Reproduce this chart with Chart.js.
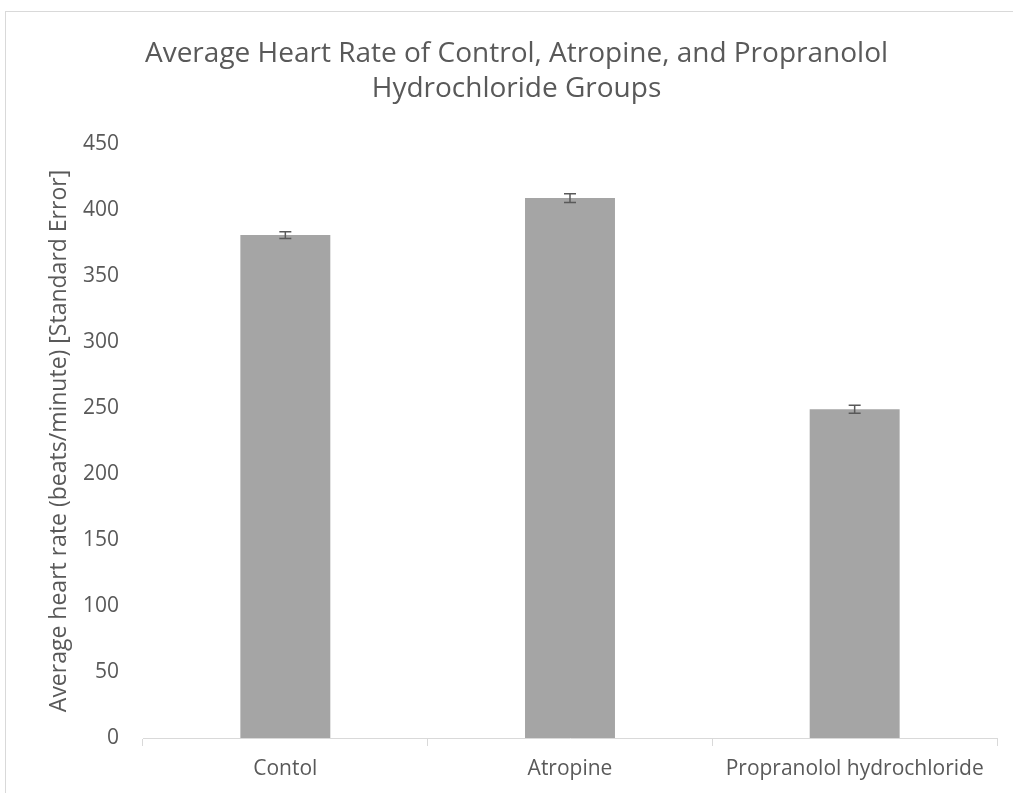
<!DOCTYPE html>
<html>
<head>
<meta charset="utf-8">
<script src="https://cdn.jsdelivr.net/npm/chart.js@4.4.0/dist/chart.umd.min.js"></script>
<style>
    body { margin: 0; background: #fff; }
    #frame { position: absolute; left: 5px; top: 11px; width: 1013px; height: 793px; border: 1px solid #d9d9d9; }
    #wrap { position: absolute; left: 0; top: 0; width: 1013px; height: 793px; }
</style>
</head>
<body>
<div id="frame"></div>
<div id="wrap"><canvas id="heartChart" width="1013" height="793"></canvas></div>
<script>
// Dữ liệu biểu đồ
var groups = ["Contol", "Atropine", "Propranolol hydrochloride"];
var avgHeartRate = [381, 409, 249];
var stdError = [2.6, 3.4, 3.0];
var yTicks = [0, 50, 100, 150, 200, 250, 300, 350, 400, 450];

// Vẽ thanh sai số (standard error)
var errorBarPlugin = {
    id: "errorBars",
    afterDatasetsDraw: function (chart) {
        var ctx = chart.ctx;
        var yScale = chart.scales.y;
        var meta = chart.getDatasetMeta(0);
        ctx.save();
        ctx.strokeStyle = "#595959";
        ctx.lineWidth = 1.5;
        meta.data.forEach(function (bar, i) {
            var top = yScale.getPixelForValue(avgHeartRate[i] + stdError[i]);
            var bottom = yScale.getPixelForValue(avgHeartRate[i] - stdError[i]);
            var x = bar.x;
            ctx.beginPath();
            ctx.moveTo(x, top);
            ctx.lineTo(x, bottom);
            ctx.moveTo(x - 6, top);
            ctx.lineTo(x + 6, top);
            ctx.moveTo(x - 6, bottom);
            ctx.lineTo(x + 6, bottom);
            ctx.stroke();
        });
        ctx.restore();
    },
};

// Dịch tiêu đề sang phải một chút cho giống bản gốc
var titleShiftPlugin = {
    id: "titleShift",
    afterLayout: function (chart) {
        if (chart.titleBlock) {
            chart.titleBlock.left += 36;
        }
    },
};

var ctx = document.getElementById("heartChart").getContext("2d");
new Chart(ctx, {
    type: "bar",
    data: {
        labels: groups,
        datasets: [
            {
                label: "Average heart rate",
                data: avgHeartRate,
                backgroundColor: "#a5a5a5",
                borderWidth: 0,
                categoryPercentage: 1,
                barPercentage: 0.316,
            },
        ],
    },
    options: {
        responsive: false,
        animation: false,
        layout: {
            padding: { left: 0, right: 16, top: 0, bottom: 0 },
        },
        plugins: {
            legend: { display: false },
            tooltip: { enabled: false },
            title: {
                display: true,
                text: [
                    "Average Heart Rate of Control, Atropine, and Propranolol",
                    "Hydrochloride Groups",
                ],
                color: "#595959",
                font: { family: "Open Sans", size: 28, weight: "normal", lineHeight: 1.25 },
                padding: { top: 37, bottom: 37 },
            },
        },
        scales: {
            x: {
                grid: {
                    display: true,
                    drawOnChartArea: false,
                    color: "#d9d9d9",
                    tickLength: 8,
                    offset: true,
                },
                border: { color: "#d9d9d9" },
                ticks: {
                    color: "#595959",
                    font: { family: "Open Sans", size: 21 },
                    padding: 10,
                },
                afterFit: function (scale) {
                    scale.height = 55;
                },
            },
            y: {
                min: 0,
                max: 450,
                grid: { display: false },
                border: { display: false },
                afterBuildTicks: function (scale) {
                    scale.ticks = yTicks.map(function (v) {
                        return { value: v };
                    });
                },
                ticks: {
                    color: "#595959",
                    font: { family: "Open Sans", size: 21 },
                    padding: 16,
                },
                title: {
                    display: true,
                    text: "Average heart rate (beats/minute) [Standard Error]",
                    color: "#595959",
                    font: { family: "Open Sans", size: 23 },
                    padding: { top: 46, bottom: 0 },
                },
                afterFit: function (scale) {
                    scale.width = 143;
                },
            },
        },
    },
    plugins: [errorBarPlugin, titleShiftPlugin],
});
</script>
</body>
</html>
